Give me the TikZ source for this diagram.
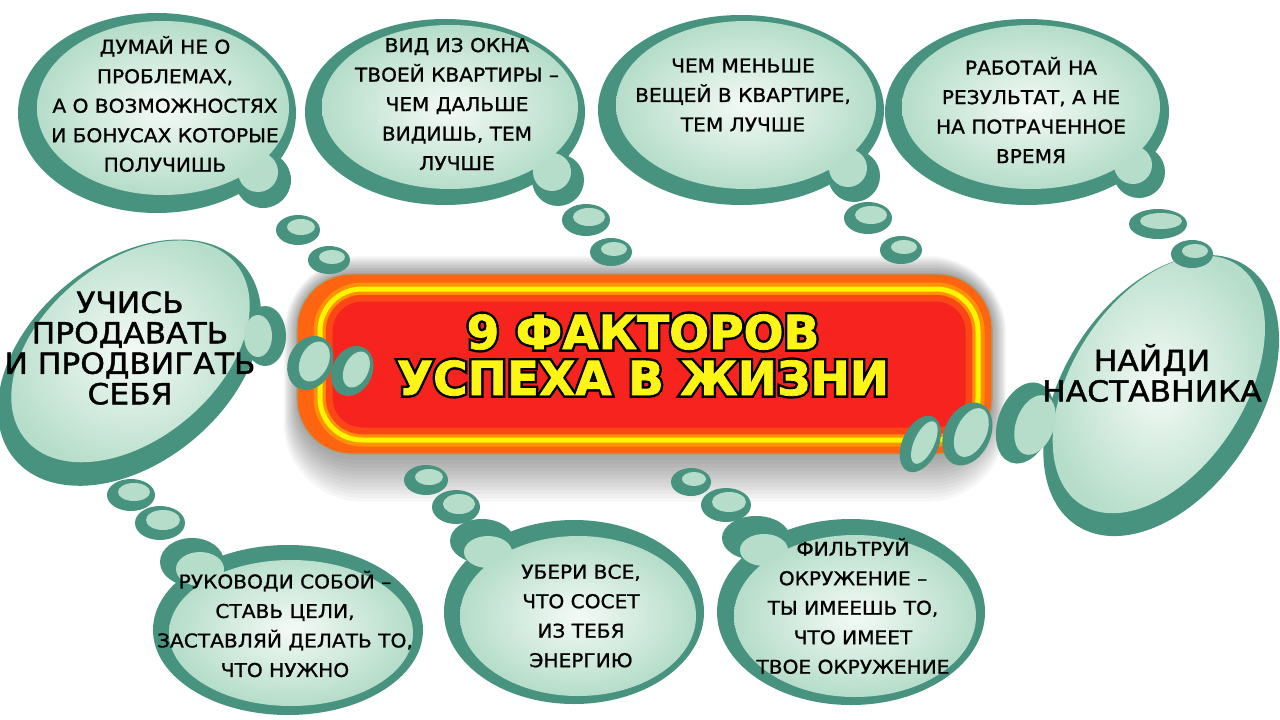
\documentclass[tikz,border=0pt]{standalone}
\usepackage{fontspec}
\setmainfont{DejaVu Sans}
\newfontfamily\bubfont[FakeStretch=1.06,FakeBold=1]{DejaVu Sans}
\newfontfamily\bigbfont[FakeStretch=1.08,FakeBold=1.5]{DejaVu Sans}
\newfontfamily\titleoutfont[FakeBold=12]{DejaVu Sans Bold}
\newfontfamily\titlefillfont[FakeBold=1.5]{DejaVu Sans Bold}
\definecolor{teal1}{HTML}{47937F}
\definecolor{mint}{HTML}{B5DDC9}
\definecolor{mintc}{HTML}{F4FAF6}
\definecolor{boxorange}{HTML}{FF6410}
\definecolor{boxred}{HTML}{F7231E}
\definecolor{neonyellow}{HTML}{FFF500}
\definecolor{titleyellow}{HTML}{FFF514}
\definecolor{boxedge}{HTML}{A89F78}
\tikzset{
  tealfill/.style={fill=teal1},
  lightshade/.style={inner color=mintc, outer color=mint},
  bubtxt/.style={align=center, inner sep=0pt, text=black, font=\bubfont\fontsize{19}{29.5}\selectfont},
  bigtxt/.style={align=center, inner sep=0pt, text=black, font=\bigbfont\fontsize{29}{30.5}\selectfont},
  titleout/.style={align=center, inner sep=0pt, text=black, font=\titleoutfont\fontsize{47}{46}\selectfont},
  titlefill/.style={align=center, inner sep=0pt, text=titleyellow, font=\titlefillfont\fontsize{47}{46}\selectfont},
}
\newcommand\sbub[5]{%
  \fill[teal1, rotate around={#5:(#1,#2)}] (#1-2,#2+2) ellipse[x radius=#3, y radius=#4];
  \fill[mint, rotate around={#5:(#1,#2)}] (#1+1,#2-1) ellipse[x radius=#3-8, y radius=#4-7];
}
\begin{document}
\begin{tikzpicture}[x=1pt,y=-1pt]
\useasboundingbox (0,0) rectangle (1280,720);
\clip (0,0) rectangle (1280,720);
\fill[white] (0,0) rectangle (1280,720);

% ---- shadow of the central box
\foreach \i in {1,...,12} {
  \fill[black, opacity=0.03, rounded corners={55+\i*2}] (298-\i*1.2, 274-\i*1.5) rectangle (992+\i*1.2, 456+\i*3.8);
}
% ---- central box
\fill[boxorange, draw=boxedge, line width=1.2pt, rounded corners=55pt] (297,274) rectangle (992,454);
\draw[orange!70!yellow, line width=13pt, opacity=0.7, rounded corners=42pt] (320,289) rectangle (978,440);
\draw[neonyellow, line width=5pt, rounded corners=42pt] (320,289) rectangle (978,440);
\fill[boxred, rounded corners=36pt] (326,295) rectangle (972,434);
\draw[boxorange, line width=7pt, opacity=0.55, rounded corners=33pt] (329,298) rectangle (969,431);
\node[titleout] (titleoutline) at (643,355) {9 ФАКТОРОВ\\УСПЕХА В ЖИЗНИ};
\node[titlefill] (title) at (643,355) {9 ФАКТОРОВ\\УСПЕХА В ЖИЗНИ};

% ---- top-left bubble
\fill[tealfill] (157,113) ellipse[x radius=139, y radius=100];
\fill[tealfill] (263,180) circle[radius=28];
\shade[lightshade] (163,108) ellipse[x radius=126, y radius=87] (258,172) circle[radius=20];
% ---- top bubble 2
\fill[tealfill] (445,112) ellipse[x radius=140, y radius=93];
\fill[tealfill] (558,180) circle[radius=26];
\shade[lightshade] (450,107) ellipse[x radius=128, y radius=82] (552,172) circle[radius=19];
% ---- top bubble 3
\fill[tealfill] (741,110) ellipse[x radius=143, y radius=95];
\fill[tealfill] (854,176) circle[radius=26];
\shade[lightshade] (746,105) ellipse[x radius=130, y radius=84] (848,168) circle[radius=19];
% ---- top bubble 4
\fill[tealfill] (1027,112) ellipse[x radius=142, y radius=93];
\fill[tealfill] (1139,172) circle[radius=26];
\shade[lightshade] (1031,107) ellipse[x radius=129, y radius=82] (1133,165) circle[radius=19];

% ---- left big bubble
\fill[tealfill, rotate around={40:(130,357)}] (126,361) ellipse[x radius=150, y radius=100];
\fill[tealfill] (265,336) ellipse[x radius=21, y radius=30];
\shade[lightshade, rotate around={40:(130,357)}] (134,353) ellipse[x radius=137, y radius=88];
\fill[mint] (258,336) ellipse[x radius=14, y radius=21];

% ---- right big bubble
\fill[tealfill, rotate around={57:(1160,390)}] (1156,394) ellipse[x radius=155, y radius=98];
\fill[tealfill, rotate around={-20:(1025,423)}] (1025,423) ellipse[x radius=27, y radius=42];
\shade[lightshade, rotate around={57:(1160,390)}] (1164,386) ellipse[x radius=143, y radius=86];
\fill[mint, rotate around={-20:(1035,425)}] (1035,425) ellipse[x radius=19, y radius=31];

% ---- bottom-left bubble
\fill[tealfill] (288,630) ellipse[x radius=135, y radius=85];
\fill[tealfill] (192,562) ellipse[x radius=32, y radius=24];
\shade[lightshade] (291,633) ellipse[x radius=122, y radius=73] (200,569) ellipse[x radius=24, y radius=17];
% ---- bottom-middle bubble
\fill[tealfill] (574,612) ellipse[x radius=130, y radius=92];
\fill[tealfill] (482,541) ellipse[x radius=32, y radius=22];
\shade[lightshade] (578,616) ellipse[x radius=118, y radius=80] (488,552) ellipse[x radius=24, y radius=16];
% ---- bottom-right bubble
\fill[tealfill] (851,612) ellipse[x radius=134, y radius=93];
\fill[tealfill] (756,538) ellipse[x radius=34, y radius=22];
\shade[lightshade] (855,616) ellipse[x radius=121, y radius=81] (764,550) ellipse[x radius=24, y radius=16];

% ---- small thought bubbles
\sbub{300}{228}{22}{15}{0}
\sbub{331}{258}{21}{14}{0}
\sbub{588}{218}{24}{16}{0}
\sbub{613}{250}{21}{14}{0}
\sbub{870}{216}{24}{16}{0}
\sbub{903}{248}{21}{14}{0}
\sbub{1160}{222}{29}{15}{0}
\sbub{1194}{252}{21}{14}{0}
\sbub{133}{493}{24}{16}{0}
\sbub{162}{521}{25}{17}{0}
\sbub{313}{362}{22}{28}{-25}
\sbub{355}{370}{20}{26}{-25}
\sbub{923}{443}{18}{30}{-25}
\sbub{970}{433}{23}{33}{-25}
\sbub{428}{478}{22}{15}{0}
\sbub{458}{505}{24}{17}{0}
\sbub{693}{480}{20}{14}{0}
\sbub{728}{503}{25}{17}{0}

% ---- texts
\node[bubtxt] (t1) at (165,104) {ДУМАЙ НЕ О\\ПРОБЛЕМАХ,\\А О ВОЗМОЖНОСТЯХ\\И БОНУСАХ КОТОРЫЕ\\ПОЛУЧИШЬ};
\node[bubtxt] (t2) at (457,104) {ВИД ИЗ ОКНА\\ТВОЕЙ КВАРТИРЫ –\\ЧЕМ ДАЛЬШЕ\\ВИДИШЬ, ТЕМ\\ЛУЧШЕ};
\node[bubtxt] (t3) at (743,95) {ЧЕМ МЕНЬШЕ\\ВЕЩЕЙ В КВАРТИРЕ,\\ТЕМ ЛУЧШЕ};
\node[bubtxt] (t4) at (1031,110) {РАБОТАЙ НА\\РЕЗУЛЬТАТ, А НЕ\\НА ПОТРАЧЕННОЕ\\ВРЕМЯ};
\node[bigtxt] (t5) at (130,348) {УЧИСЬ\\ПРОДАВАТЬ\\И ПРОДВИГАТЬ\\СЕБЯ};
\node[bigtxt] (t6) at (1152,373) {НАЙДИ\\НАСТАВНИКА};
\node[bubtxt] (t7) at (285,624) {РУКОВОДИ СОБОЙ –\\СТАВЬ ЦЕЛИ,\\ЗАСТАВЛЯЙ ДЕЛАТЬ ТО,\\ЧТО НУЖНО};
\node[bubtxt] (t8) at (581,616) {УБЕРИ ВСЕ,\\ЧТО СОСЕТ\\ИЗ ТЕБЯ\\ЭНЕРГИЮ};
\node[bubtxt] (t9) at (853,606) {ФИЛЬТРУЙ\\ОКРУЖЕНИЕ –\\ТЫ ИМЕЕШЬ ТО,\\ЧТО ИМЕЕТ\\ТВОЕ ОКРУЖЕНИЕ};
\end{tikzpicture}
\end{document}
